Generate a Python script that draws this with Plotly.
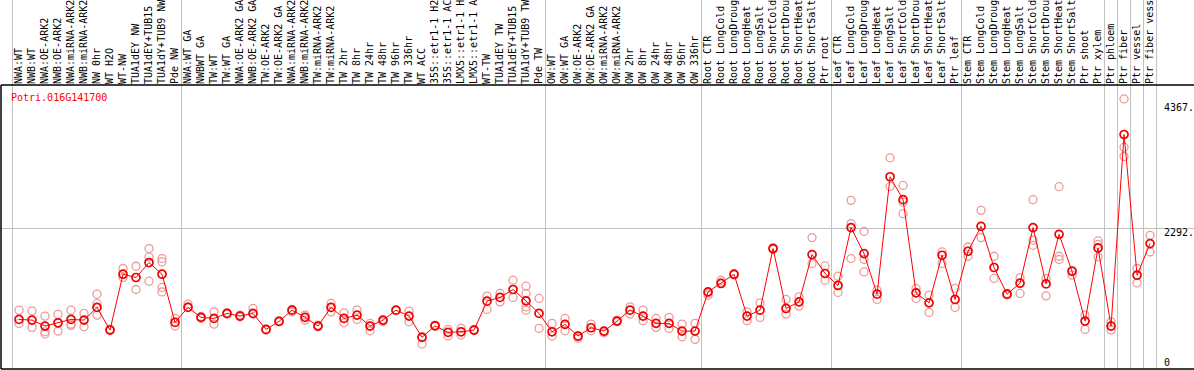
import plotly.graph_objects as go

gene = "Potri.016G141700"

categories = [
    "NWA:WT", "NWB:WT", "NWA:OE-ARK2", "NWB:OE-ARK2", "NWA:miRNA-ARK2", "NWB:miRNA-ARK2",
    "NW 0hr", "WT H2O", "WT-NW", "TUA1dEY NW", "TUA1dEY+TUB15", "TUA1dY+TUB9 NW", "Pde NW",
    "NWA:WT GA", "NWBWT GA", "TW:WT", "TW:WT GA", "NWA:OE-ARK2 GA", "NWB:OE-ARK2 GA",
    "TW:OE-ARK2", "TW:OE-ARK2 GA", "NWA:miRNA-ARK2", "NWB:miRNA-ARK2", "TW:miRNA-ARK2",
    "TW:miRNA-ARK2", "TW 2hr", "TW 8hr", "TW 24hr", "TW 48hr", "TW 96hr", "TW 336hr",
    "WT ACC", "35S::etr1-1 H2", "35S::etr1-1 AC", "LMX5::etr1-1 H", "LMX5::etr1-1 A",
    "WT-TW", "TUA1dEY TW", "TUA1dEY+TUB15", "TUA1dY+TUB9 TW", "Pde TW",
    "OW:WT", "OW:WT GA", "OW:OE-ARK2", "OW:OE-ARK2 GA", "OW:miRNA-ARK2", "OW:miRNA-ARK2",
    "OW 2hr", "OW 8hr", "OW 24hr", "OW 48hr", "OW 96hr", "OW 336hr",
    "Root CTR", "Root LongCold", "Root LongDroug", "Root LongHeat", "Root LongSalt",
    "Root ShortCold", "Root ShortDrou", "Root ShortHeat", "Root ShortSalt", "Ptr root",
    "Leaf CTR", "Leaf LongCold", "Leaf LongDroug", "Leaf LongHeat", "Leaf LongSalt",
    "Leaf ShortCold", "Leaf ShortDrou", "Leaf ShortHeat", "Leaf ShortSalt", "Ptr leaf",
    "Stem CTR", "Stem LongCold", "Stem LongDroug", "Stem LongHeat", "Stem LongSalt",
    "Stem ShortCold", "Stem ShortDrou", "Stem ShortHeat", "Stem ShortSalt", "Ptr shoot",
    "Ptr xylem", "Ptr phloem", "Ptr fiber", "Ptr vessel", "Ptr fiber vess",
]

mean_values = [
    730, 718, 616, 672, 730, 718, 936, 547, 1505, 1449, 1705, 1505, 679,
    936, 765, 747, 833, 787, 833, 559, 696, 889, 765, 616, 936, 747, 804, 616, 718, 889,
    787, 422, 621, 508, 518, 547, 1043, 1107, 1243, 1048, 833,
    518, 645, 445, 587, 530, 701, 889, 787, 662, 662, 530, 530,
    1202, 1346, 1505, 787, 889, 1945, 918, 1031, 1842, 1517,
    1312, 2304, 1859, 1163, 3176, 2783, 1185, 1014, 1830, 1072,
    1899, 2326, 1620, 1163, 1351, 2304, 1339, 2189, 1556, 701, 1955, 616, 3900, 1488, 2030,
]

replicate_values = [
    [889, 662], [877, 594], [787, 518, 479], [816, 530], [889, 650, 628], [833, 604],
    [1163, 1004, 804], [564, 547], [1603, 1449], [1642, 1243], [1945, 1801, 1385],
    [1774, 1716, 1278, 1202], [747, 616],
    [992, 946], [780, 750], [860, 650], [843, 820], [804, 775], [918, 821], [559, 547],
    [706, 690], [901, 860], [804, 718], [633, 604], [1004, 860], [843, 672], [889, 730],
    [662, 535], [706, 689], [889, 880],
    [872, 689], [433, 308], [616, 633], [559, 445], [576, 462], [559, 540], [1129, 901],
    [1175, 1031], [1403, 1107], [1300, 1175, 946, 889], [1090, 576],
    [662, 445], [747, 535], [445, 410], [650, 535], [501, 515], [718, 690], [946, 821],
    [889, 706], [747, 594], [765, 576], [650, 433], [662, 388],
    [1146, 1180], [1403, 1370], [1505, 1490], [860, 706], [1014, 765], [1960, 1930],
    [1072, 821], [1117, 958], [2133, 1688], [1647, 1403],
    [1471, 1192], [2771, 2372, 1774], [2241, 1757, 1545], [1231, 1072], [3501, 3010],
    [3027, 2742, 2543], [1261, 1090], [1146, 850], [1887, 1688], [1261, 936],
    [1972, 1813], [2600, 2133], [1813, 1432], [1175, 1150], [1442, 1175],
    [2783, 2087, 2001], [1432, 1134], [3005, 1813, 1757], [1488, 1570], [804, 559],
    [2075, 2018, 1801], [689, 547], [4510, 3683, 3523], [1603, 1356], [2172, 1887],
]

group_breaks = [-0.5, 12.5, 40.5, 52.5, 62.5, 72.5, 83.5, 84.5, 85.5, 86.5, 87.5]
axis_labels = [4367, 2292, 0]

idx = list(range(len(categories)))
rep_x, rep_y = [], []
for i, reps in enumerate(replicate_values):
    for v in reps:
        rep_x.append(i)
        rep_y.append(v)

fig = go.Figure()
fig.add_trace(go.Scatter(
    x=rep_x, y=rep_y, mode="markers",
    marker=dict(symbol="circle-open", size=8, color="#ee9a9a", line=dict(width=1.3, color="#ee9a9a")),
    hoverinfo="skip", showlegend=False,
))
fig.add_trace(go.Scatter(
    x=idx, y=mean_values, mode="lines+markers",
    line=dict(color="#ff0000", width=1),
    marker=dict(symbol="circle-open", size=8, color="#f00000", line=dict(width=1.7, color="#f00000")),
    showlegend=False,
))

shapes = []
for b in group_breaks:
    shapes.append(dict(type="line", xref="x", yref="paper", x0=b, x1=b, y0=0, y1=1.3,
                       line=dict(color="#c0c0c0", width=1), layer="below"))
# frame lines
shapes.append(dict(type="line", xref="paper", yref="paper", x0=0, x1=1, y0=1, y1=1,
                   line=dict(color="black", width=1.5)))
shapes.append(dict(type="line", xref="paper", yref="paper", x0=0, x1=1, y0=0, y1=0,
                   line=dict(color="black", width=1.5)))
shapes.append(dict(type="line", xref="paper", yref="paper", x0=0, x1=0, y0=0, y1=1,
                   line=dict(color="black", width=1.5)))

mono = "DejaVu Sans Mono"
annotations = [dict(text=gene, xref="paper", yref="paper", x=0.007, y=0.955,
                    xanchor="left", yanchor="middle", showarrow=False,
                    font=dict(family=mono, size=10, color="#ff0000"))]
for v in axis_labels:
    annotations.append(dict(text=f"{v}." if v else "0", xref="paper", yref="y", x=0.973, y=v,
                            xanchor="left", yanchor="middle", showarrow=False,
                            yshift=-4 if v == 2292 else 0,
                            font=dict(family=mono, size=10, color="black")))

fig.update_layout(
    width=1194, height=370,
    margin=dict(l=1, r=0, t=85, b=1, pad=0),
    paper_bgcolor="white", plot_bgcolor="white",
    shapes=shapes, annotations=annotations,
    xaxis=dict(range=[-1.385, 90.38], side="top", tickmode="array", tickvals=idx,
               ticktext=categories, tickangle=-90, showgrid=False, zeroline=False,
               ticks="", showline=False, automargin=False,
               tickfont=dict(family=mono, size=10, color="black")),
    yaxis=dict(range=[-120, 4749], tickmode="array", tickvals=[2292], showticklabels=False,
               showgrid=True, gridcolor="#c0c0c0", gridwidth=1, zeroline=False,
               showline=False, automargin=False),
)

fig.write_html(
    "out.html",
    config={"displayModeBar": False},
    post_script="document.body.style.margin='0';document.body.style.padding='0';"
                "document.body.style.overflow='hidden';",
)
